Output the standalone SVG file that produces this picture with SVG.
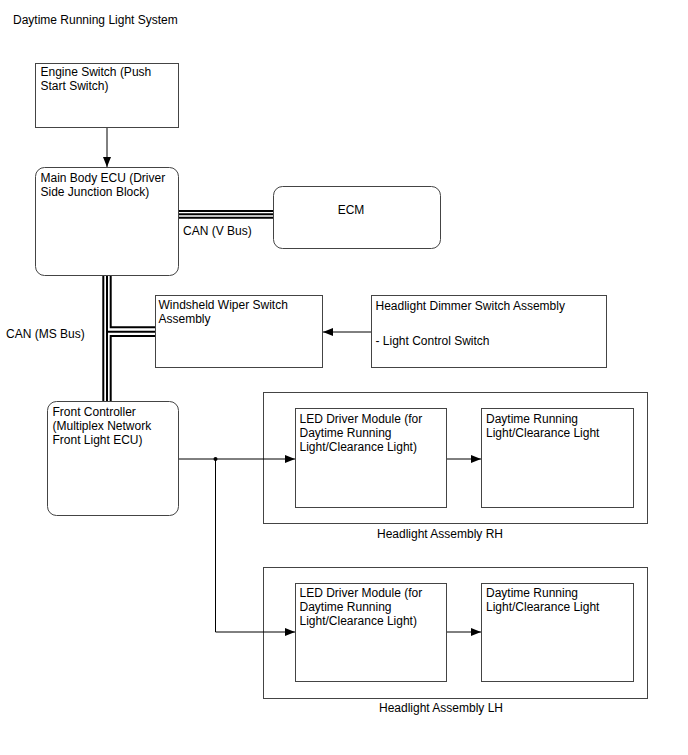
<svg xmlns="http://www.w3.org/2000/svg" width="688" height="755" viewBox="0 0 688 755">
<style>
text{font-family:"Liberation Sans",Arial,sans-serif;font-size:12px;fill:#000}
.box{fill:#fff;stroke:#444;stroke-width:1}
.outer{fill:none;stroke:#444;stroke-width:1}
.ln{fill:none;stroke:#000;stroke-width:1}
.bus{fill:none;stroke:#000;stroke-width:2}
</style>
<defs>
<marker id="ah" viewBox="0 0 10 8" refX="10" refY="4" markerWidth="10" markerHeight="8" markerUnits="userSpaceOnUse" orient="auto">
<path d="M0,0 L10,4 L0,8 z" fill="#000"/>
</marker>
</defs>
<rect width="688" height="755" fill="#fff"/>
<text x="13" y="24">Daytime Running Light System</text>

<g id="engine-switch">
<rect class="box" x="35.5" y="63.5" width="143" height="64"/>
<text x="40.5" y="75.5">Engine Switch (Push</text>
<text x="40.5" y="89.5">Start Switch)</text>
</g>

<g id="main-body-ecu">
<rect class="box" x="35.5" y="167.5" width="143" height="108" rx="9"/>
<text x="40.5" y="181.5">Main Body ECU (Driver</text>
<text x="40.5" y="195.5">Side Junction Block)</text>
</g>
<text x="183" y="235">CAN (V Bus)</text>

<g id="ecm">
<rect class="box" x="273.5" y="186.5" width="167" height="62" rx="9"/>
<text x="351" y="214" text-anchor="middle">ECM</text>
</g>

<text x="6" y="338">CAN (MS Bus)</text>

<g id="wiper-switch">
<rect class="box" x="155.5" y="295.5" width="167" height="72"/>
<text x="158.5" y="309">Windsheld Wiper Switch</text>
<text x="158.5" y="323">Assembly</text>
</g>

<g id="dimmer-switch">
<rect class="box" x="371.5" y="295.5" width="235" height="72"/>
<text x="375.5" y="309.5">Headlight Dimmer Switch Assembly</text>
<text x="375.5" y="345">- Light Control Switch</text>
</g>

<g id="front-controller">
<rect class="box" x="47.5" y="401.5" width="131" height="114" rx="9"/>
<text x="52.5" y="415.5">Front Controller</text>
<text x="52.5" y="429.5">(Multiplex Network</text>
<text x="52.5" y="443.5">Front Light ECU)</text>
</g>

<g id="headlight-rh">
<rect class="outer" x="263.5" y="392.5" width="384" height="131"/>
<text x="440" y="538" text-anchor="middle">Headlight Assembly RH</text>
</g>
<g id="led-driver-rh">
<rect class="box" x="295.5" y="408.5" width="151" height="99"/>
<text x="299.5" y="423">LED Driver Module (for</text>
<text x="299.5" y="437">Daytime Running</text>
<text x="299.5" y="451">Light/Clearance Light)</text>
</g>
<g id="drl-rh">
<rect class="box" x="481.5" y="408.5" width="152" height="99"/>
<text x="486" y="423">Daytime Running</text>
<text x="486" y="437">Light/Clearance Light</text>
</g>

<g id="headlight-lh">
<rect class="outer" x="263.5" y="567.5" width="384" height="131"/>
<text x="441" y="712" text-anchor="middle">Headlight Assembly LH</text>
</g>
<g id="led-driver-lh">
<rect class="box" x="295.5" y="583.5" width="151" height="98"/>
<text x="299.5" y="597">LED Driver Module (for</text>
<text x="299.5" y="611">Daytime Running</text>
<text x="299.5" y="625">Light/Clearance Light)</text>
</g>
<g id="drl-lh">
<rect class="box" x="481.5" y="583.5" width="152" height="98"/>
<text x="486" y="597">Daytime Running</text>
<text x="486" y="611">Light/Clearance Light</text>
</g>

<g id="connectors">
<line class="ln" x1="107" y1="128" x2="107" y2="167" marker-end="url(#ah)"/>
<line class="bus" x1="179" y1="211" x2="273" y2="211"/>
<line class="bus" x1="179" y1="214.3" x2="273" y2="214.3"/>
<line class="bus" x1="179" y1="217.7" x2="273" y2="217.7"/>
<line class="bus" x1="103.3" y1="276" x2="103.3" y2="401"/>
<line class="bus" x1="107" y1="276" x2="107" y2="401"/>
<line class="bus" x1="107" y1="331.7" x2="155" y2="331.7"/>
<polyline class="bus" points="110.7,276 110.7,327.3 155,327.3"/>
<polyline class="bus" points="155,336 110.7,336 110.7,401"/>
<line class="ln" x1="371" y1="332" x2="323" y2="332" marker-end="url(#ah)"/>
<line class="ln" x1="179" y1="459" x2="295" y2="459" marker-end="url(#ah)"/>
<polyline class="ln" points="215.5,459 215.5,632 295,632" marker-end="url(#ah)"/>
<circle cx="215.5" cy="459" r="2" fill="#000"/>
<line class="ln" x1="447" y1="459" x2="481" y2="459" marker-end="url(#ah)"/>
<line class="ln" x1="447" y1="632" x2="481" y2="632" marker-end="url(#ah)"/>
</g>
</svg>
